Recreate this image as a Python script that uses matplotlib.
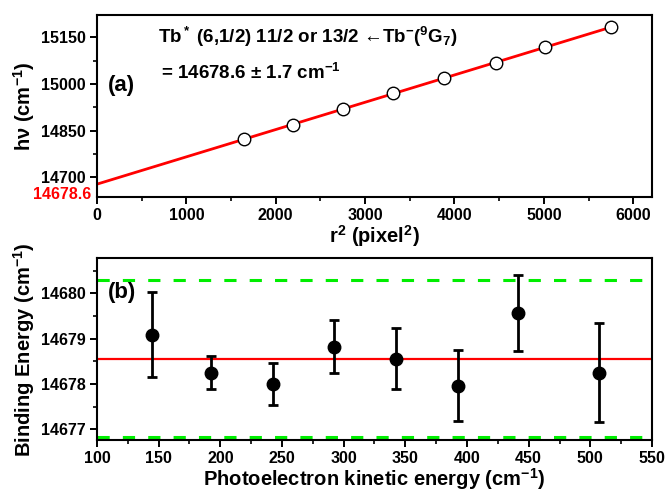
import numpy as np
import matplotlib
matplotlib.use("Agg")
import matplotlib.pyplot as plt
from matplotlib.ticker import MultipleLocator

plt.rcParams['font.family'] = ['Liberation Sans', 'DejaVu Sans']
plt.rcParams['font.weight'] = 'bold'
plt.rcParams['mathtext.fontset'] = 'custom'
plt.rcParams['mathtext.rm'] = 'Liberation Sans:bold'
plt.rcParams['mathtext.it'] = 'Liberation Sans:bold'
plt.rcParams['mathtext.bf'] = 'Liberation Sans:bold'
plt.rcParams['axes.linewidth'] = 1.5

# (a) photon energy vs r^2
r2 = [1640, 2190, 2750, 3310, 3880, 4460, 5010, 5750]
hv = [14823, 14869, 14920, 14970, 15019, 15068, 15118, 15182]
intercept = 14678.6
slope = 0.0876

# (b) binding energy vs photoelectron kinetic energy
eke = [144.6, 192.7, 242.7, 291.8, 342.1, 392.7, 441.3, 506.7]
be = [14679.09, 14678.25, 14678.00, 14678.82, 14678.56, 14677.96, 14679.56, 14678.25]
be_err = [0.93, 0.36, 0.47, 0.58, 0.67, 0.78, 0.84, 1.09]
be_mean = 14678.56
be_sd = 1.74

fig = plt.figure(figsize=(6.66, 4.94), dpi=100)
ax1 = fig.add_axes([0.1456, 0.601, 0.8334, 0.369])
ax2 = fig.add_axes([0.1456, 0.109, 0.8334, 0.368])

def style(ax):
    ax.tick_params(which='major', direction='out', length=5, width=1.4,
                   labelsize=11.5, pad=3, top=False, right=False)
    ax.tick_params(which='minor', direction='out', length=3, width=1.2,
                   top=False, right=False)
    for lab in ax.get_xticklabels() + ax.get_yticklabels():
        lab.set_fontweight('bold')

# panel (a)
xfit = np.array([0, r2[-1]])
ax1.plot(xfit, intercept + slope * xfit, color='red', lw=2, zorder=2)
ax1.plot(r2, hv, 'o', ms=9, mfc='white', mec='black', mew=1.0, zorder=3)
ax1.set_xlim(0, 6210)
ax1.set_ylim(14637, 15222)
ax1.xaxis.set_major_locator(MultipleLocator(1000))
ax1.xaxis.set_minor_locator(MultipleLocator(500))
ax1.yaxis.set_major_locator(MultipleLocator(150))
ax1.yaxis.set_minor_locator(MultipleLocator(75))
style(ax1)
ax1.set_xlabel(r'r$^2$ (pixel$^2$)', fontsize=14.5, fontweight='bold', labelpad=0)
ax1.set_ylabel(r'h$\nu$ (cm$^{-1}$)', fontsize=14.5, fontweight='bold', labelpad=3)
ax1.text(-0.01, 0.015, '14678.6', color='red', fontsize=11.5, fontweight='bold',
         ha='right', va='center', transform=ax1.transAxes)
ax1.text(0.11, 0.88, r'Tb$^*$ (6,1/2) 11/2 or 13/2 ←Tb$^{-}$($^9$G$_7$)',
         fontsize=13.5, fontweight='bold', transform=ax1.transAxes, va='center')
ax1.text(0.115, 0.68, r'= 14678.6 ± 1.7 cm$^{-1}$', fontsize=13.5,
         fontweight='bold', transform=ax1.transAxes, va='center')
ax1.text(0.02, 0.615, '(a)', fontsize=16, fontweight='bold',
         transform=ax1.transAxes, va='center')

# panel (b)
ax2.axhline(be_mean, color='red', lw=1.6, zorder=1)
ax2.axhline(be_mean + be_sd, color='#00ee00', lw=2.2, ls=(0, (4, 4.3)), zorder=1)
ax2.axhline(be_mean - be_sd, color='#00ee00', lw=2.2, ls=(0, (4, 4.3)), zorder=1)
ax2.errorbar(eke, be, yerr=be_err, fmt='o', color='black', ms=9,
             elinewidth=2, capsize=3.5, capthick=2, zorder=3)
ax2.set_xlim(100, 550)
ax2.set_ylim(14676.76, 14680.77)
ax2.xaxis.set_major_locator(MultipleLocator(50))
ax2.xaxis.set_minor_locator(MultipleLocator(25))
ax2.yaxis.set_major_locator(MultipleLocator(1))
ax2.yaxis.set_minor_locator(MultipleLocator(0.5))
ax2.ticklabel_format(useOffset=False, axis='y')
style(ax2)
ax2.set_xlabel(r'Photoelectron kinetic energy (cm$^{-1}$)', fontsize=14.5,
               fontweight='bold', labelpad=0)
ax2.set_ylabel(r'Binding Energy (cm$^{-1}$)', fontsize=14.5, fontweight='bold',
               labelpad=3)
ax2.text(0.02, 0.81, '(b)', fontsize=16, fontweight='bold',
         transform=ax2.transAxes, va='center')

fig.savefig('out.png', dpi=100)
